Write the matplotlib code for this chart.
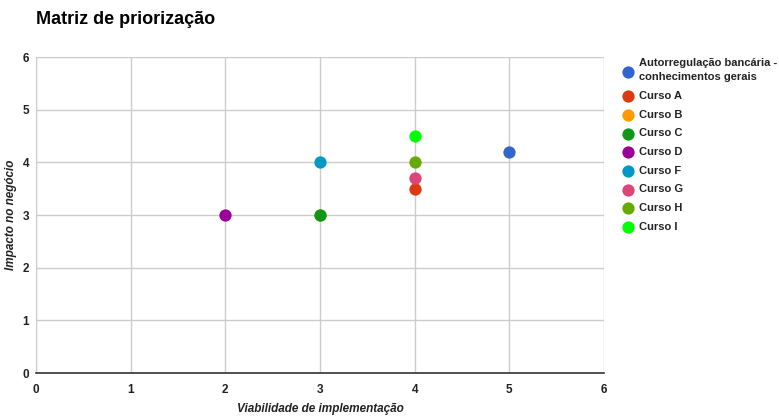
import matplotlib.pyplot as plt

plt.rcParams['font.family'] = ['Liberation Sans', 'DejaVu Sans']

# Dados da matriz
series_names = ["Autorregulação bancária -\nconhecimentos gerais", "Curso A", "Curso B", "Curso C",
                "Curso D", "Curso F", "Curso G", "Curso H", "Curso I"]
viabilidade = [5, 4, 3, 3, 2, 3, 4, 4, 4]
impacto = [4.2, 3.5, 3, 3, 3, 4, 3.7, 4, 4.5]
colors = ["#3366cc", "#dc3912", "#ff9900", "#109618", "#990099",
          "#0099c6", "#dd4477", "#66aa00", "#00ff00"]
ticks = [0, 1, 2, 3, 4, 5, 6]

fig = plt.figure(figsize=(7.79, 4.17), dpi=100)
ax = fig.add_axes([36 / 779, 44 / 417, 568 / 779, 316 / 417])

for name, x, y, c in zip(series_names, viabilidade, impacto, colors):
    ax.scatter([x], [y], s=78, color=c, label=name, zorder=3, linewidths=0)

ax.set_xlim(0, 6)
ax.set_ylim(0, 6)
ax.set_xticks(ticks)
ax.set_yticks(ticks)
ax.grid(True, color="#cccccc", linewidth=1)
ax.set_axisbelow(True)
for s in ["top", "right"]:
    ax.spines[s].set_visible(False)
ax.spines["left"].set_color("#cccccc")
ax.spines["bottom"].set_color("#333333")
ax.spines["bottom"].set_linewidth(1.2)
ax.tick_params(length=0, labelsize=8.5, colors="#222222")
ax.tick_params(axis="y", pad=5)
ax.tick_params(axis="x", pad=8)
for lbl in ax.get_xticklabels() + ax.get_yticklabels():
    lbl.set_fontweight("bold")

fig.text(320 / 779, 1 - 409 / 417, "Viabilidade de implementação", fontsize=8.5, style="italic",
         fontweight="bold", color="#222222", ha="center", va="center")
fig.text(11 / 779, 1 - 215 / 417, "Impacto no negócio", fontsize=8.5, style="italic",
         fontweight="bold", color="#222222", ha="center", va="center", rotation=90)

fig.text(36 / 779, 1 - 20 / 417, "Matriz de priorização", fontsize=13,
         fontweight="bold", color="#000000", va="center")

leg = fig.legend(loc="upper left", bbox_to_anchor=(617 / 779, 1 - 54 / 417), frameon=False,
                 fontsize=8, handletextpad=0.4, labelspacing=0.78, borderaxespad=0,
                 handlelength=1.2, markerscale=1.0)
for t in leg.get_texts():
    t.set_fontweight("bold")
    t.set_color("#222222")
    t.set_linespacing(1.5)

fig.savefig("out.png", dpi=100)
